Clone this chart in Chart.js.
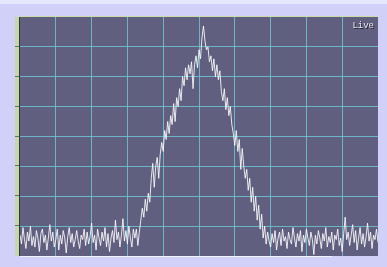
<!DOCTYPE html>
<html>
<head>
<meta charset="utf-8">
<script src="https://cdn.jsdelivr.net/npm/chart.js"></script>
<style>
  html, body { margin: 0; padding: 0; }
  body { width: 387px; height: 267px; background: #d0d0f8; overflow: hidden; }
  #wrap { position: relative; width: 387px; height: 267px; }
  #wrap::before { content: ""; position: absolute; left: 0; top: 0; width: 387px; height: 4px; background: #e6e6fc; }
  canvas { position: absolute; left: 0; top: 0; }
</style>
</head>
<body>
<div id="wrap"><canvas id="c" width="387" height="267"></canvas></div>
<script>
// signal, roughly one sample every 1.5 px
const baseLeft = [0.7, 0.4, 0.95, 0.55, 0.25, 0.8, 0.5, 1.0, 0.35, 0.65,
  0.3, 0.85, 0.6, 0.15, 0.75, 0.9, 0.45, 0.7, 0.2, 0.6,
  1.05, 0.5, 0.8, 0.3, 0.55, 0.9, 0.2, 0.7, 0.4, 0.85,
  0.6, 0.1, 0.65, 0.95, 0.45, 0.75, 0.3, 0.55, 0.85, 0.5,
  0.25, 0.7, 0.55, 0.9, 0.35, 0.8, 0.4, 0.65, 1.1, 0.45,
  0.7, 0.2, 0.9, 0.6, 0.35, 0.8, 0.5, 0.95, 0.3, 0.75,
  0.15, 0.6, 0.85, 0.45, 1.2, 0.55, 0.8, 0.3, 0.7, 1.25,
  0.5, 0.85, 0.4, 1.0, 0.6, 0.3, 0.9];
const rise = [0.6, 0.9, 0.35, 0.8, 1.2, 1.6, 1.3, 1.9, 1.5, 2.1,
  1.8, 2.6, 3.1, 2.3, 3.0, 3.3, 2.6, 3.4, 3.8, 3.5,
  4.2, 3.9, 4.5, 4.1, 4.7, 4.4, 5.1, 4.5, 5.3, 5.0,
  5.6, 5.2, 6.0, 5.7, 6.3, 5.9, 6.4, 6.1, 6.5, 5.6,
  6.4, 6.7, 6.3, 6.9, 6.6, 7.3, 7.7];
const fall = [7.2, 6.9, 7.0, 6.5, 6.7, 6.2, 6.6, 6.0, 6.4, 5.9,
  6.2, 5.5, 5.2, 5.6, 4.9, 5.3, 4.7, 5.0, 4.4, 4.1,
  3.7, 4.2, 3.5, 3.9, 2.9, 3.6, 3.0, 2.6, 2.9, 2.2,
  2.6, 1.8, 2.3, 1.5, 2.0, 1.2, 1.7, 0.9, 1.4, 0.6,
  1.0, 0.4, 0.8, 0.5];
const baseRight = [0.3, 0.75, 0.45, 0.85, 0.2, 0.6, 0.8, 0.35, 0.9, 0.5,
  0.65, 0.25, 0.8, 0.55, 0.4, 0.95, 0.6, 0.3, 0.75, 0.5,
  0.85, 0.15, 0.7, 0.45, 0.9, 0.6, 0.35, 0.8, 0.55, 0.05,
  0.7, 0.4, 0.85, 0.6, 0.25, 0.75, 0.5, 0.95, 0.3, 0.65,
  0.45, 0.8, 0.2, 0.7, 0.55, 0.9, 0.35, 0.6, 0.15, 0.75,
  1.3, 0.55, 0.8, 0.35, 0.7, 1.05, 0.45, 0.85, 0.2, 0.6,
  0.95, 0.4, 0.75, 0.3, 0.65, 1.1, 0.5, 0.8, 0.25, 0.7,
  0.55, 0.9, 0.45];
const signal = baseLeft.concat(rise, fall, baseRight);
const xMax = 240, xStep = 24, yMax = 8;
const liveLabel = "Live";

const points = signal.map((v, i) => ({ x: i, y: v }));

// фон графика, ось слева, рамки
const frame = {
  id: "frame",
  beforeDraw(chart) {
    const { ctx, chartArea: a } = chart;
    ctx.save();
    ctx.fillStyle = "#605f80";
    ctx.fillRect(a.left, a.top, a.right - a.left, a.bottom - a.top);
    ctx.restore();
  },
  afterDraw(chart) {
    const { ctx, chartArea: a, scales } = chart;
    ctx.save();
    // green axis strip
    ctx.fillStyle = "#c4d8a8";
    ctx.fillRect(a.left - 5, a.top, 4, a.bottom - a.top);
    ctx.fillStyle = "#303830";
    ctx.fillRect(a.left - 1, a.top, 1, a.bottom - a.top);
    ctx.fillStyle = "#68706a";
    for (let v = 1; v < yMax; v++) {
      const y = Math.round(scales.y.getPixelForValue(v));
      ctx.fillRect(a.left - 5, y - 1, 4, 1);
    }
    // top border
    ctx.fillStyle = "#c8dca8";
    ctx.fillRect(a.left - 1, a.top - 1, a.right - a.left + 1, 1);
    // bottom white bar
    ctx.fillStyle = "#f4f4ff";
    ctx.fillRect(a.left, a.bottom, 312, 1);
    // live tag
    ctx.font = "9px 'Liberation Mono', monospace";
    ctx.textAlign = "right";
    ctx.textBaseline = "alphabetic";
    ctx.fillStyle = "#202030";
    ctx.fillText(liveLabel, a.right - 3, a.top + 12);
    ctx.fillStyle = "#e8e8e8";
    ctx.fillText(liveLabel, a.right - 4, a.top + 11);
    ctx.restore();
  }
};

const gridColor = ctx => (ctx.index === 0 || ctx.tick.value === xMax || ctx.tick.value === yMax) ? "rgba(0,0,0,0)" : "rgba(108,198,210,0.85)";

new Chart(document.getElementById("c").getContext("2d"), {
  type: "line",
  data: {
    datasets: [{
      data: points,
      borderColor: "rgba(255,255,255,0.85)",
      borderWidth: 1,
      pointRadius: 0,
      tension: 0,
      fill: false
    }]
  },
  options: {
    responsive: false,
    animation: false,
    layout: { padding: { left: 20, top: 17, right: 9, bottom: 11 } },
    plugins: { legend: { display: false }, tooltip: { enabled: false } },
    scales: {
      x: {
        type: "linear", min: 0, max: xMax,
        ticks: { display: false, stepSize: xStep },
        grid: { color: gridColor, drawTicks: false, lineWidth: 1 },
        border: { display: false },
        afterFit: s => { s.height = 0; }
      },
      y: {
        min: 0, max: yMax,
        ticks: { display: false, stepSize: 1 },
        grid: { color: gridColor, drawTicks: false, lineWidth: 1 },
        border: { display: false },
        afterFit: s => { s.width = 0; }
      }
    }
  },
  plugins: [frame]
});
</script>
</body>
</html>
